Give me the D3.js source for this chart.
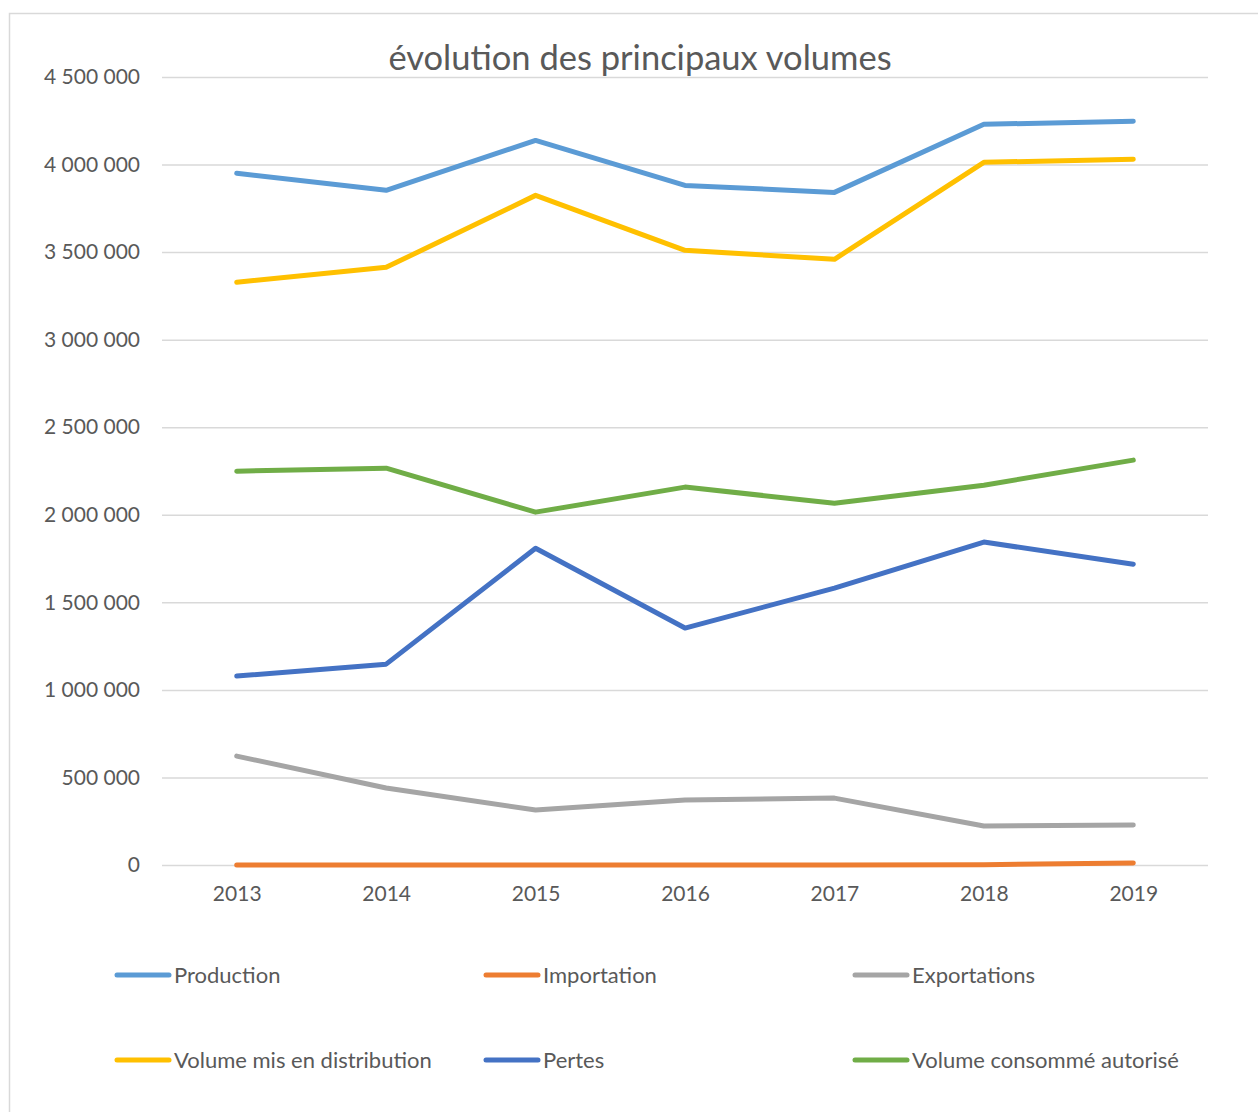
<!DOCTYPE html>
<html>
<head>
<meta charset="utf-8">
<script src="https://cdn.jsdelivr.net/npm/d3@7"></script>
<style>
  body { margin: 0; background: #fff; }
  svg text { font-family: Lato, "Open Sans", sans-serif; fill: #595959; }
</style>
</head>
<body>
<div id="chart"></div>
<script>
var years = ['2013', '2014', '2015', '2016', '2017', '2018', '2019'];

var production   = [3950000, 3853000, 4138000, 3881000, 3841000, 4230000, 4247000];
var importation  = [0, 0, 0, 0, 0, 2000, 12000];
var exportations = [622000, 440000, 314000, 371000, 382000, 223000, 228000];
var distribution = [3328000, 3413000, 3824000, 3510000, 3459000, 4013000, 4030000];
var pertes       = [1079000, 1147000, 1809000, 1353000, 1581000, 1844000, 1718000];
var consomme     = [2249000, 2266000, 2015000, 2158000, 2066000, 2169000, 2312000];

var yTicks = [0, 500000, 1000000, 1500000, 2000000, 2500000, 3000000, 3500000, 4000000, 4500000];

// order of the legend, row by row
var series = [
  { name: 'Production', values: production, color: '#5B9BD5' },
  { name: 'Importation', values: importation, color: '#ED7D31' },
  { name: 'Exportations', values: exportations, color: '#A5A5A5' },
  { name: 'Volume mis en distribution', values: distribution, color: '#FFC000' },
  { name: 'Pertes', values: pertes, color: '#4472C4' },
  { name: 'Volume consommé autorisé', values: consomme, color: '#70AD47' }
];

var width = 1258, height = 1112,
    plot = { left: 162, right: 1208, top: 77, bottom: 865 };

var fr = d3.formatLocale({ decimal: ',', thousands: '\u00a0', grouping: [3], currency: ['', ' €'] });
var fmt = fr.format(',d');

var svg = d3.select('#chart').append('svg')
  .attr('width', width)
  .attr('height', height);

// chart frame (only top and left edges show in the crop)
svg.append('path')
  .attr('d', 'M9.5,' + height + 'V13.5H' + width)
  .attr('fill', 'none')
  .attr('stroke', '#d9d9d9')
  .attr('stroke-width', 1.5);

var x = d3.scalePoint()
  .domain(years)
  .range([plot.left, plot.right])
  .padding(0.5);

var y = d3.scaleLinear()
  .domain([0, 4500000])
  .range([plot.bottom, plot.top]);

// gridlines
svg.append('g')
  .attr('transform', 'translate(' + plot.left + ',0)')
  .call(d3.axisLeft(y).tickValues(yTicks).tickSize(-(plot.right - plot.left)).tickFormat(''))
  .call(function(g) {
    g.select('.domain').remove();
    g.selectAll('line').attr('stroke', '#d9d9d9').attr('stroke-width', 1.5);
  });

// y labels
svg.append('g')
  .attr('transform', 'translate(' + plot.left + ',0)')
  .call(d3.axisLeft(y).tickValues(yTicks).tickSize(0).tickPadding(22).tickFormat(fmt))
  .call(function(g) {
    g.select('.domain').remove();
    g.selectAll('text').style('font-size', '21px');
  });

// x labels
svg.append('g')
  .attr('transform', 'translate(0,' + plot.bottom + ')')
  .call(d3.axisBottom(x).tickSize(0).tickPadding(21))
  .call(function(g) {
    g.select('.domain').remove();
    g.selectAll('text').style('font-size', '21px');
  });

var line = d3.line()
  .x(function(d, i) { return x(years[i]); })
  .y(function(d) { return y(d); });

svg.append('g').selectAll('path')
  .data(series)
  .enter().append('path')
    .attr('d', function(d) { return line(d.values); })
    .attr('fill', 'none')
    .attr('stroke', function(d) { return d.color; })
    .attr('stroke-width', 5)
    .attr('stroke-linecap', 'round')
    .attr('stroke-linejoin', 'round');

// title
svg.append('text')
  .attr('x', 640)
  .attr('y', 70)
  .attr('text-anchor', 'middle')
  .style('font-size', '34.5px')
  .text('évolution des principaux volumes');

// legend
var legend = svg.append('g').selectAll('g')
  .data(series)
  .enter().append('g')
    .attr('transform', function(d, i) {
      return 'translate(' + (117 + (i % 3) * 369) + ',' + (975 + Math.floor(i / 3) * 85) + ')';
    });

legend.append('line')
  .attr('x1', 0).attr('x2', 52)
  .attr('stroke', function(d) { return d.color; })
  .attr('stroke-width', 5)
  .attr('stroke-linecap', 'round');

legend.append('text')
  .attr('x', 57)
  .attr('dy', '0.35em')
  .style('font-size', '22px')
  .text(function(d) { return d.name; });
</script>
</body>
</html>
